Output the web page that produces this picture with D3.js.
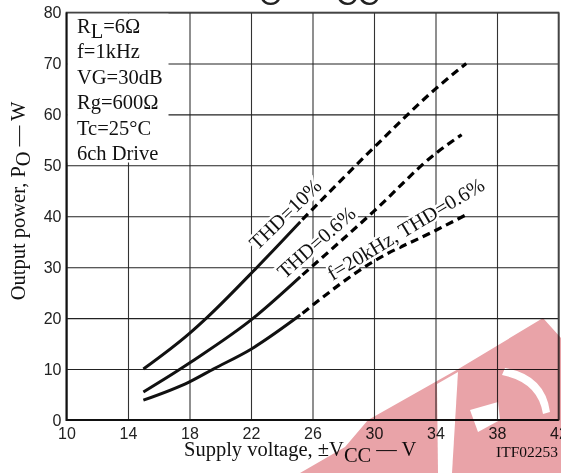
<!DOCTYPE html>
<html lang="en">
<head>
<meta charset="UTF-8">
<title>PO - VCC</title>
<script src="https://d3js.org/d3.v7.min.js"></script>
<style>
    body { margin: 0; background: #fff; }
    .tick text { font-family: "Liberation Sans", Arial, sans-serif; font-size: 16px; fill: #222; }
    .serif { font-family: "Liberation Serif", "Times New Roman", serif; fill: #111; }
</style>
</head>
<body>
<div id="chart"></div>
<script>
// axis ticks
const xTicks = [10, 14, 18, 22, 26, 30, 34, 38, 42];
const yTicks = [0, 10, 20, 30, 40, 50, 60, 70, 80];

const thd10Solid = [[15, 10], [18, 17], [19.1, 20], [22.4, 30], [25.2, 38.9]];
const thd10Dash = [[25.2, 38.9], [30, 53.5], [34, 65], [36, 70]];
const thd06Solid = [[15, 5.5], [17.4, 10], [18, 11.2], [22.15, 20], [25.2, 28.1]];
const thd06Dash = [[25.2, 28.1], [30, 41], [34, 52.3], [35.7, 56]];
const f20kSolid = [[15, 3.9], [18, 7.5], [19.55, 10], [22, 13.9], [25.2, 20.6]];
const f20kDash = [[25.2, 20.6], [30, 31.2], [34, 37.2], [36, 40.3]];

const conditions = ["R|L|=6Ω", "f=1kHz", "VG=30dB", "Rg=600Ω", "Tc=25°C", "6ch Drive"];

const width = 561, height = 473;
const svg = d3.select("#chart").append("svg")
    .attr("width", width)
    .attr("height", height);

const x = d3.scaleLinear().domain([10, 42]).range([66.5, 558.5]);
const y = d3.scaleLinear().domain([0, 80]).range([420, 12.5]);

// title, mostly cut off at the top
const title = svg.append("text")
    .attr("font-family", "Liberation Sans, Arial, sans-serif")
    .attr("font-size", 30)
    .attr("fill", "#222");
title.append("tspan").attr("x", 245).attr("y", 0).text("P");
title.append("tspan").attr("x", 259).attr("y", 5).text("O");
title.append("tspan").attr("x", 289).attr("y", 0).text("—");
title.append("tspan").attr("x", 320).attr("y", 0).text("V");
title.append("tspan").attr("x", 336).attr("y", 5).text("CC");

// grid via axes
const gx = svg.append("g")
    .attr("transform", `translate(0,${y(0)})`)
    .call(d3.axisBottom(x).tickValues(xTicks).tickSize(-(y(0) - y(80))).tickPadding(8).tickFormat(d3.format("d")));
gx.select(".domain").remove();
gx.selectAll(".tick line").attr("stroke", "#333").attr("stroke-width", 1.1);

const gy = svg.append("g")
    .attr("transform", `translate(${x(10)},0)`)
    .call(d3.axisLeft(y).tickValues(yTicks).tickSize(-(x(42) - x(10))).tickPadding(5).tickFormat(d3.format("d")));
gy.select(".domain").remove();
gy.selectAll(".tick line").attr("stroke", "#222").attr("stroke-width", 1.1);

// white box behind the conditions
svg.append("rect")
    .attr("x", x(10) + 1).attr("y", y(80) + 1)
    .attr("width", 101).attr("height", 149)
    .attr("fill", "#fff");

// frame
svg.append("rect")
    .attr("x", x(10)).attr("y", y(80))
    .attr("width", x(42) - x(10)).attr("height", y(0) - y(80))
    .attr("fill", "none").attr("stroke", "#444").attr("stroke-width", 1.6);
svg.append("path")
    .attr("d", `M${x(10)},${y(80)}V${y(0)}H${x(42)}`)
    .attr("fill", "none").attr("stroke", "#111").attr("stroke-width", 1.8);

// condition list
conditions.forEach((c, i) => {
    const t = svg.append("text").attr("class", "serif")
        .attr("x", 77).attr("y", 33 + i * 25.4)
        .attr("font-size", 20.5);
    const parts = c.split("|");
    if (parts.length > 1) {
        t.append("tspan").text(parts[0]);
        t.append("tspan").attr("dy", 5).text(parts[1]);
        t.append("tspan").attr("dy", -5).text(parts[2]);
    } else {
        t.text(c);
    }
});

// curves
const line = d3.line().x(d => x(d[0])).y(d => y(d[1])).curve(d3.curveMonotoneX);
[thd10Solid, thd06Solid, f20kSolid].forEach(s => {
    svg.append("path").attr("d", line(s))
        .attr("fill", "none").attr("stroke", "#111").attr("stroke-width", 3);
});
[thd10Dash, thd06Dash, f20kDash].forEach(s => {
    svg.append("path").attr("d", line(s))
        .attr("fill", "none").attr("stroke", "#000").attr("stroke-width", 3.2)
        .attr("stroke-dasharray", "8,5").attr("stroke-dashoffset", -3);
});

// curve labels
const curveLabels = [
    { text: "THD=10%", vx: 22.4, vy: 33.2, angle: -44 },
    { text: "THD=0.6%", vx: 24.2, vy: 27.6, angle: -41.5 },
    { text: "f=20kHz, THD=0.6%", vx: 27.3, vy: 27.3, angle: -31 }
];
curveLabels.forEach(l => {
    svg.append("text").attr("class", "serif")
        .attr("transform", `translate(${x(l.vx)},${y(l.vy)}) rotate(${l.angle})`)
        .attr("font-size", 20.5)
        .attr("stroke", "#fff").attr("stroke-width", 5)
        .attr("paint-order", "stroke")
        .text(l.text);
});

// axis titles
const yt = svg.append("text").attr("class", "serif")
    .attr("transform", `translate(25,201) rotate(-90)`)
    .attr("text-anchor", "middle")
    .attr("font-size", 20.5);
yt.append("tspan").text("Output power, P");
yt.append("tspan").attr("dy", 5).text("O");
yt.append("tspan").attr("dy", -5).text(" — W");

const xt = svg.append("text").attr("class", "serif")
    .attr("x", 184).attr("y", 456)
    .attr("font-size", 20.5);
xt.append("tspan").text("Supply voltage, ±V");
xt.append("tspan").attr("dy", 6).text("CC");
xt.append("tspan").attr("dy", -6).text(" — V");

svg.append("text").attr("class", "serif")
    .attr("x", 558).attr("y", 457)
    .attr("text-anchor", "end")
    .attr("font-size", 15.5)
    .attr("fill", "#444")
    .text("ITF02253");

// faint watermark in the corner
const wm = svg.append("g").style("mix-blend-mode", "multiply");
wm.append("path")
    .attr("d", "M300,473 L345,447 L368,420 L460,368 L543,318 L561,338 L561,473 Z")
    .attr("fill", "#e9a3a8");
wm.append("path")
    .attr("d", "M437,384 L458,372 L452,473 L438,473 Z")
    .attr("fill", "#fff");
wm.append("path")
    .attr("d", "M470,410 L498,402 L500,420 L478,432 Z")
    .attr("fill", "#fff");
wm.append("path")
    .attr("d", "M505,368 Q545,375 550,412 L543,414 Q538,382 502,375 Z")
    .attr("fill", "#fff");
</script>
</body>
</html>
